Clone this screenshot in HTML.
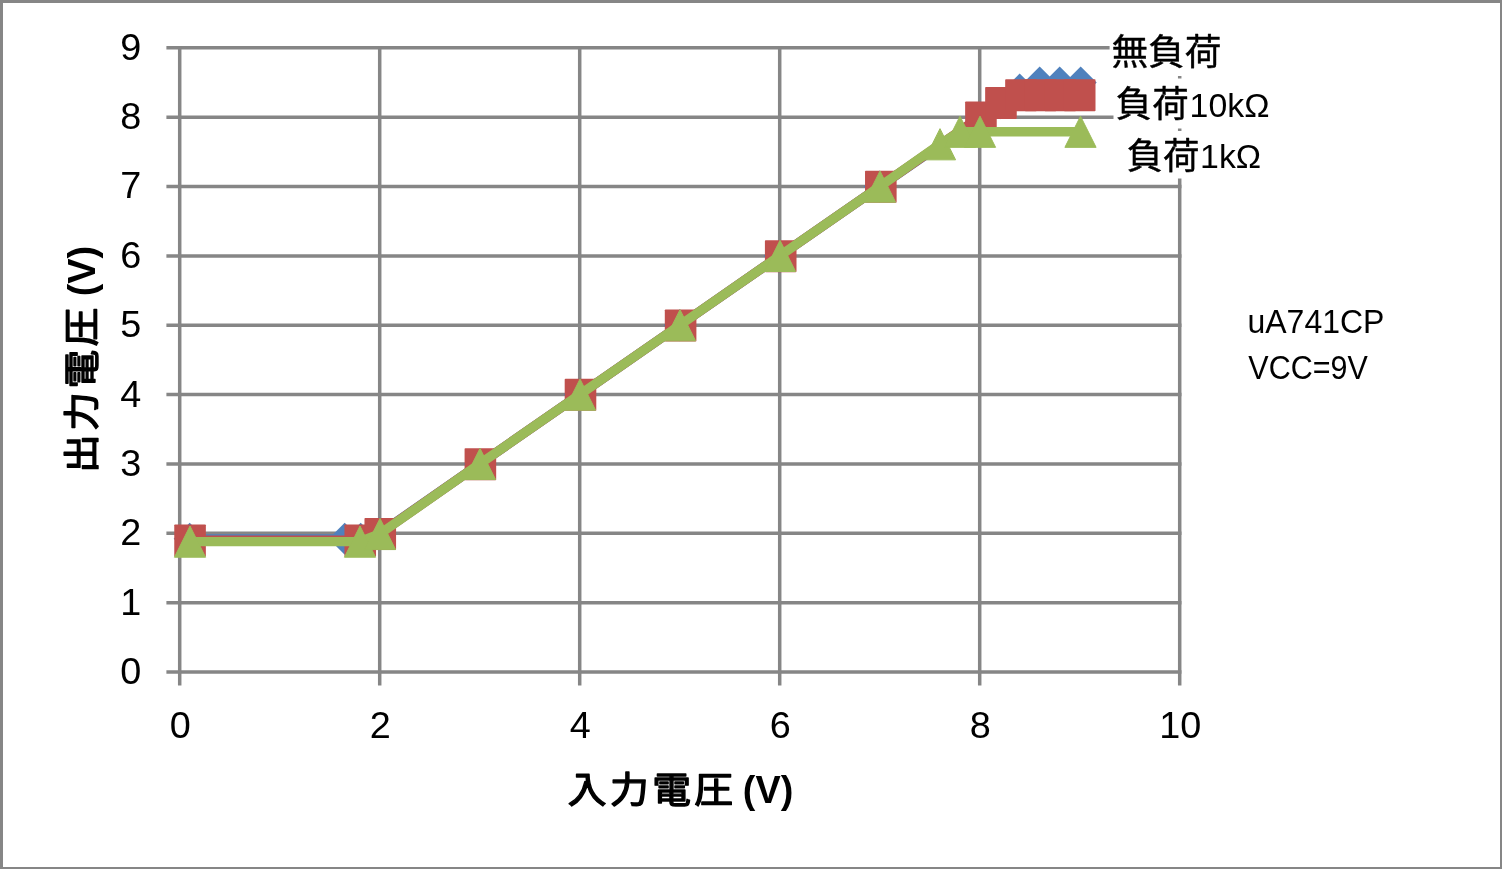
<!DOCTYPE html>
<html lang="ja"><head><meta charset="utf-8"><title>出力電圧 - 入力電圧</title>
<style>
html,body{margin:0;padding:0;background:#fff;}
body{width:1502px;height:869px;overflow:hidden;}
svg{display:block;}
text{font-family:"Liberation Sans","Noto Sans CJK JP",sans-serif;}
</style></head><body>
<svg width="1502" height="869" viewBox="0 0 1502 869">
<rect x="0" y="0" width="1502" height="869" fill="#ffffff"/>
<rect x="0" y="0" width="1502" height="3" fill="#868686"/>
<rect x="0" y="0" width="3" height="869" fill="#868686"/>
<rect x="1500" y="0" width="2" height="869" fill="#868686"/>
<rect x="0" y="867" width="1502" height="2" fill="#868686"/>
<g stroke="#868686" stroke-width="3.5" fill="none">
<line x1="166.4" y1="672.00" x2="1181.45" y2="672.00"/>
<line x1="166.4" y1="602.65" x2="1181.45" y2="602.65"/>
<line x1="166.4" y1="533.30" x2="1181.45" y2="533.30"/>
<line x1="166.4" y1="463.95" x2="1181.45" y2="463.95"/>
<line x1="166.4" y1="394.60" x2="1181.45" y2="394.60"/>
<line x1="166.4" y1="325.25" x2="1181.45" y2="325.25"/>
<line x1="166.4" y1="255.90" x2="1181.45" y2="255.90"/>
<line x1="166.4" y1="186.55" x2="1181.45" y2="186.55"/>
<line x1="166.4" y1="117.20" x2="1181.45" y2="117.20"/>
<line x1="166.4" y1="47.85" x2="1181.45" y2="47.85"/>
<line x1="179.70" y1="46.10" x2="179.70" y2="685.6"/>
<line x1="379.70" y1="46.10" x2="379.70" y2="685.6"/>
<line x1="579.70" y1="46.10" x2="579.70" y2="685.6"/>
<line x1="779.70" y1="46.10" x2="779.70" y2="685.6"/>
<line x1="979.70" y1="46.10" x2="979.70" y2="685.6"/>
<line x1="1179.70" y1="46.10" x2="1179.70" y2="685.6"/>
</g>
<path d="M189.70,538.85 L344.70,538.85 L360.70,538.85 L379.70,533.30 L479.70,463.95 L579.70,394.60 L679.70,325.25 L779.70,255.90 L879.70,186.55 L980.70,117.20 L1000.70,103.33 L1019.70,89.46 L1039.70,82.53 L1059.70,82.53 L1080.70,82.53" stroke="#4F81BD" stroke-width="9.4" fill="none" stroke-linejoin="round" stroke-linecap="round"/>
<path d="M189.70,522.85 L205.70,538.85 L189.70,554.85 L173.70,538.85 Z" fill="#4F81BD"/>
<path d="M344.70,522.85 L360.70,538.85 L344.70,554.85 L328.70,538.85 Z" fill="#4F81BD"/>
<path d="M360.70,522.85 L376.70,538.85 L360.70,554.85 L344.70,538.85 Z" fill="#4F81BD"/>
<path d="M379.70,517.30 L395.70,533.30 L379.70,549.30 L363.70,533.30 Z" fill="#4F81BD"/>
<path d="M479.70,447.95 L495.70,463.95 L479.70,479.95 L463.70,463.95 Z" fill="#4F81BD"/>
<path d="M579.70,378.60 L595.70,394.60 L579.70,410.60 L563.70,394.60 Z" fill="#4F81BD"/>
<path d="M679.70,309.25 L695.70,325.25 L679.70,341.25 L663.70,325.25 Z" fill="#4F81BD"/>
<path d="M779.70,239.90 L795.70,255.90 L779.70,271.90 L763.70,255.90 Z" fill="#4F81BD"/>
<path d="M879.70,170.55 L895.70,186.55 L879.70,202.55 L863.70,186.55 Z" fill="#4F81BD"/>
<path d="M980.70,101.20 L996.70,117.20 L980.70,133.20 L964.70,117.20 Z" fill="#4F81BD"/>
<path d="M1000.70,87.33 L1016.70,103.33 L1000.70,119.33 L984.70,103.33 Z" fill="#4F81BD"/>
<path d="M1019.70,73.46 L1035.70,89.46 L1019.70,105.46 L1003.70,89.46 Z" fill="#4F81BD"/>
<path d="M1039.70,66.53 L1055.70,82.53 L1039.70,98.53 L1023.70,82.53 Z" fill="#4F81BD"/>
<path d="M1059.70,66.53 L1075.70,82.53 L1059.70,98.53 L1043.70,82.53 Z" fill="#4F81BD"/>
<path d="M1080.70,66.53 L1096.70,82.53 L1080.70,98.53 L1064.70,82.53 Z" fill="#4F81BD"/>
<path d="M189.70,540.24 L359.70,540.24 L379.70,533.65 L479.70,463.95 L579.70,394.60 L679.70,325.25 L779.70,255.90 L879.70,186.55 L979.70,117.20 L999.70,102.64 L1019.70,95.01 L1039.70,95.01 L1059.70,95.01 L1079.70,95.01" stroke="#C0504D" stroke-width="9.4" fill="none" stroke-linejoin="round" stroke-linecap="round"/>
<rect x="174.26" y="524.49" width="31.6" height="32" rx="0.8" fill="#C0504D"/>
<rect x="344.45" y="524.49" width="31.6" height="32" rx="0.8" fill="#C0504D"/>
<rect x="364.47" y="517.90" width="31.6" height="32" rx="0.8" fill="#C0504D"/>
<rect x="464.58" y="448.20" width="31.6" height="32" rx="0.8" fill="#C0504D"/>
<rect x="564.69" y="378.85" width="31.6" height="32" rx="0.8" fill="#C0504D"/>
<rect x="664.80" y="309.50" width="31.6" height="32" rx="0.8" fill="#C0504D"/>
<rect x="764.91" y="240.15" width="31.6" height="32" rx="0.8" fill="#C0504D"/>
<rect x="865.02" y="170.80" width="31.6" height="32" rx="0.8" fill="#C0504D"/>
<rect x="965.13" y="101.45" width="31.6" height="32" rx="0.8" fill="#C0504D"/>
<rect x="985.15" y="86.89" width="31.6" height="32" rx="0.8" fill="#C0504D"/>
<rect x="1005.17" y="79.26" width="31.6" height="32" rx="0.8" fill="#C0504D"/>
<rect x="1024.80" y="79.26" width="31.6" height="32" rx="0.8" fill="#C0504D"/>
<rect x="1044.40" y="79.26" width="31.6" height="32" rx="0.8" fill="#C0504D"/>
<rect x="1063.90" y="79.26" width="31.6" height="32" rx="0.8" fill="#C0504D"/>
<path d="M189.70,541.62 L359.70,541.62 L379.70,533.99 L479.70,463.95 L579.70,394.60 L679.70,325.25 L779.70,255.90 L879.70,186.55 L939.70,144.25 L959.70,131.76 L979.70,131.76 L1080.20,131.76" stroke="#9BBB59" stroke-width="9.4" fill="none" stroke-linejoin="round" stroke-linecap="round"/>
<path d="M190.00,526.02 L205.60,557.22 L174.40,557.22 Z" fill="#9BBB59" stroke="#9BBB59" stroke-width="1" stroke-linejoin="round"/>
<path d="M360.00,526.02 L375.60,557.22 L344.40,557.22 Z" fill="#9BBB59" stroke="#9BBB59" stroke-width="1" stroke-linejoin="round"/>
<path d="M380.00,518.39 L395.60,549.59 L364.40,549.59 Z" fill="#9BBB59" stroke="#9BBB59" stroke-width="1" stroke-linejoin="round"/>
<path d="M480.00,448.35 L495.60,479.55 L464.40,479.55 Z" fill="#9BBB59" stroke="#9BBB59" stroke-width="1" stroke-linejoin="round"/>
<path d="M580.00,379.00 L595.60,410.20 L564.40,410.20 Z" fill="#9BBB59" stroke="#9BBB59" stroke-width="1" stroke-linejoin="round"/>
<path d="M680.00,309.65 L695.60,340.85 L664.40,340.85 Z" fill="#9BBB59" stroke="#9BBB59" stroke-width="1" stroke-linejoin="round"/>
<path d="M780.00,240.30 L795.60,271.50 L764.40,271.50 Z" fill="#9BBB59" stroke="#9BBB59" stroke-width="1" stroke-linejoin="round"/>
<path d="M880.00,170.95 L895.60,202.15 L864.40,202.15 Z" fill="#9BBB59" stroke="#9BBB59" stroke-width="1" stroke-linejoin="round"/>
<path d="M940.00,128.65 L955.60,159.85 L924.40,159.85 Z" fill="#9BBB59" stroke="#9BBB59" stroke-width="1" stroke-linejoin="round"/>
<path d="M960.00,116.16 L975.60,147.36 L944.40,147.36 Z" fill="#9BBB59" stroke="#9BBB59" stroke-width="1" stroke-linejoin="round"/>
<path d="M980.00,116.16 L995.60,147.36 L964.40,147.36 Z" fill="#9BBB59" stroke="#9BBB59" stroke-width="1" stroke-linejoin="round"/>
<path d="M1080.50,116.16 L1096.10,147.36 L1064.90,147.36 Z" fill="#9BBB59" stroke="#9BBB59" stroke-width="1" stroke-linejoin="round"/>
<rect x="1109.6" y="28" width="120" height="48" fill="#fff"/>
<rect x="1113.5" y="78.5" width="160" height="50" fill="#fff"/>
<rect x="1122" y="131" width="145" height="47.5" fill="#fff"/>
<g font-family="'Liberation Sans','Noto Sans CJK JP',sans-serif" fill="#000">
<text transform="translate(141.20,683.90) scale(1.0,1)" font-size="37.8" text-anchor="end">0</text>
<text transform="translate(141.20,614.55) scale(1.0,1)" font-size="37.8" text-anchor="end">1</text>
<text transform="translate(141.20,545.20) scale(1.0,1)" font-size="37.8" text-anchor="end">2</text>
<text transform="translate(141.20,475.85) scale(1.0,1)" font-size="37.8" text-anchor="end">3</text>
<text transform="translate(141.20,406.50) scale(1.0,1)" font-size="37.8" text-anchor="end">4</text>
<text transform="translate(141.20,337.15) scale(1.0,1)" font-size="37.8" text-anchor="end">5</text>
<text transform="translate(141.20,267.80) scale(1.0,1)" font-size="37.8" text-anchor="end">6</text>
<text transform="translate(141.20,198.45) scale(1.0,1)" font-size="37.8" text-anchor="end">7</text>
<text transform="translate(141.20,129.10) scale(1.0,1)" font-size="37.8" text-anchor="end">8</text>
<text transform="translate(141.20,59.75) scale(1.0,1)" font-size="37.8" text-anchor="end">9</text>
<text transform="translate(180.30,738.20) scale(1.0,1)" font-size="37.8" text-anchor="middle">0</text>
<text transform="translate(380.30,738.20) scale(1.0,1)" font-size="37.8" text-anchor="middle">2</text>
<text transform="translate(580.30,738.20) scale(1.0,1)" font-size="37.8" text-anchor="middle">4</text>
<text transform="translate(780.30,738.20) scale(1.0,1)" font-size="37.8" text-anchor="middle">6</text>
<text transform="translate(980.30,738.20) scale(1.0,1)" font-size="37.8" text-anchor="middle">8</text>
<text transform="translate(1180.30,738.20) scale(1.0,1)" font-size="37.8" text-anchor="middle">10</text>
<text transform="translate(567.85,803.20) scale(1.06,1)" font-size="36.6" letter-spacing="3.18" stroke="#000" stroke-width="1.4" stroke-linejoin="round">入力電圧</text>
<text transform="translate(742.80,803.10) scale(0.973,1)" font-size="38.9" font-weight="bold">(V)</text>
<g transform="translate(94.6,472.9) rotate(-90)">
<text transform="translate(0.00,0.00) scale(1.06,1)" font-size="36.6" letter-spacing="3.18" stroke="#000" stroke-width="1.4" stroke-linejoin="round">出力電圧</text>
<text transform="translate(176.60,0.00) scale(0.973,1)" font-size="38.9" font-weight="bold">(V)</text>
</g>
<text transform="translate(1111.40,64.90) scale(1.02,1)" font-size="36" stroke="#000" stroke-width="0.4" stroke-linejoin="round">無負荷</text>
<text transform="translate(1115.60,116.70) scale(1.016,1)" font-size="36" stroke="#000" stroke-width="0.4" stroke-linejoin="round">負荷</text>
<text transform="translate(1189.60,116.80) scale(1.02,1)" font-size="33.2">10kΩ</text>
<text transform="translate(1126.40,168.60) scale(1.016,1)" font-size="36" stroke="#000" stroke-width="0.4" stroke-linejoin="round">負荷</text>
<text transform="translate(1200.10,167.80) scale(1.02,1)" font-size="33.2">1kΩ</text>
<text transform="translate(1247.50,333.10) scale(0.958,1)" font-size="33.4">uA741CP</text>
<text transform="translate(1248.30,379.00) scale(0.913,1)" font-size="33.4">VCC=9V</text>
</g>
</svg></body></html>
